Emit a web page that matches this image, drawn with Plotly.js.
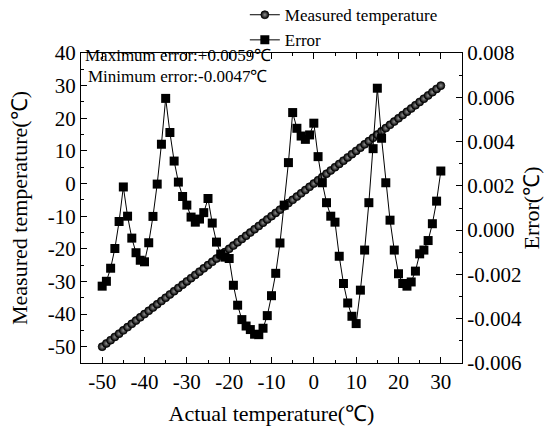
<!DOCTYPE html>
<html>
<head>
<meta charset="utf-8">
<script src="https://cdn.plot.ly/plotly-3.0.1.min.js"></script>
<style>html,body{margin:0;padding:0;background:#fff;}#chart{width:544px;height:429px;}</style>
</head>
<body>
<div id="chart"></div>
<script>
const actualTemp = [-50,-49,-48,-47,-46,-45,-44,-43,-42,-41,-40,-39,-38,-37,-36,-35,-34,-33,-32,-31,-30,-29,-28,-27,-26,-25,-24,-23,-22,-21,-20,-19,-18,-17,-16,-15,-14,-13,-12,-11,-10,-9,-8,-7,-6,-5,-4,-3,-2,-1,0,1,2,3,4,5,6,7,8,9,10,11,12,13,14,15,16,17,18,19,20,21,22,23,24,25,26,27,28,29,30];
const measuredTemp = [-50,-49,-48,-47,-46,-45,-44,-43,-42,-41,-40,-39,-38,-37,-36,-35,-34,-33,-32,-31,-30,-29,-28,-27,-26,-25,-24,-23,-22,-21,-20,-19,-18,-17,-16,-15,-14,-13,-12,-11,-10,-9,-8,-7,-6,-5,-4,-3,-2,-1,0,1,2,3,4,5,6,7,8,9,10,11,12,13,14,15,16,17,18,19,20,21,22,23,24,25,26,27,28,29,30];
const errorVals = [-0.00253,-0.00231,-0.00172,-0.00083,0.00039,0.00195,0.00063,-0.00036,-0.00102,-0.00136,
  -0.00143,-0.00057,0.00062,0.00208,0.00388,0.00595,0.00441,0.00312,0.00217,0.00152,
  0.00113,0.00059,0.00036,0.00050,0.00079,0.00143,0.00032,-0.00054,-0.00108,-0.00122,
  -0.00128,-0.00249,-0.00339,-0.00404,-0.00433,-0.00449,-0.00470,-0.00472,-0.00443,-0.00386,
  -0.00296,-0.00195,-0.00058,0.00113,0.00305,0.00531,0.00460,0.00425,0.00410,0.00430,
  0.00483,0.00332,0.00214,0.00124,0.00063,0.00036,-0.00118,-0.00241,-0.00329,-0.00389,
  -0.00422,-0.00271,-0.00090,0.00124,0.00368,0.00641,0.00415,0.00214,0.00045,-0.00090,
  -0.00197,-0.00241,-0.00253,-0.00234,-0.00185,-0.00107,-0.00090,-0.00047,0.00029,0.00131,
  0.00267];

const xTickVals = [-50,-40,-30,-20,-10,0,10,20,30];
const xTickText = ["-50","-40","-30","-20","-10","0","10","20","30"];
const yTickVals = [-50,-40,-30,-20,-10,0,10,20,30,40];
const yTickText = ["-50","-40","-30","-20","-10","0","10","20","30","40"];
const y2TickVals = [-0.006,-0.004,-0.002,0,0.002,0.004,0.006,0.008];
const y2TickText = ["-0.006","-0.004","-0.002","0.000","0.002","0.004","0.006","0.008"];

const FONT = "Liberation Serif";

const traces = [
  {
    x: actualTemp, y: measuredTemp, name: "Measured temperature",
    type: "scatter", mode: "lines+markers", yaxis: "y",
    line: {color: "#000", width: 1},
    marker: {symbol: "circle", size: 8, color: "#000",
             gradient: {type: "radial", color: "#909090"},
             line: {color: "#000", width: 0.7}}
  },
  {
    x: actualTemp, y: errorVals, name: "Error",
    type: "scatter", mode: "lines+markers", yaxis: "y2",
    line: {color: "#000", width: 1},
    marker: {symbol: "square", size: 9, color: "#000", line: {width: 0}}
  }
];

const axisCommon = {
  showline: true, linecolor: "#000", linewidth: 1,
  ticks: "inside", ticklen: 6, tickwidth: 1, tickcolor: "#000",
  showgrid: false, zeroline: false,
  tickfont: {family: FONT, size: 21, color: "#000"}
};

const layout = {
  width: 544, height: 429,
  margin: {l: 81, r: 82, t: 53, b: 66, autoexpand: false},
  paper_bgcolor: "#fff", plot_bgcolor: "#fff",
  font: {family: FONT, color: "#000"},
  showlegend: true,
  legend: {x: 0.43, y: 1.18, xanchor: "left", yanchor: "top",
           font: {family: FONT, size: 17, color: "#000"},
           bgcolor: "rgba(0,0,0,0)", borderwidth: 0, tracegroupgap: 0},
  xaxis: Object.assign({}, axisCommon, {
    range: [-55, 35], mirror: "ticks",
    tickmode: "array", tickvals: xTickVals, ticktext: xTickText,
    minor: {tickmode: "linear", tick0: -55, dtick: 5, ticks: "inside", ticklen: 3, tickcolor: "#000", showgrid: false},
    title: {text: "Actual temperature(℃)", font: {family: FONT, size: 22, color: "#000"}, standoff: 12}
  }),
  yaxis: Object.assign({}, axisCommon, {
    range: [-55, 40],
    tickmode: "array", tickvals: yTickVals, ticktext: yTickText,
    minor: {tickmode: "linear", tick0: -55, dtick: 5, ticks: "inside", ticklen: 3, tickcolor: "#000", showgrid: false},
    title: {text: "Measured temperature(℃)", font: {family: FONT, size: 22, color: "#000"}, standoff: 14}
  }),
  yaxis2: Object.assign({}, axisCommon, {
    range: [-0.006, 0.008], overlaying: "y", side: "right",
    tickmode: "array", tickvals: y2TickVals, ticktext: y2TickText,
    minor: {tickmode: "linear", tick0: -0.006, dtick: 0.001, ticks: "inside", ticklen: 3, tickcolor: "#000", showgrid: false},
    title: {text: "Error(℃)", font: {family: FONT, size: 22, color: "#000"}, standoff: 2}
  }),
  annotations: [
    {text: "Maximum error:+0.0059℃", xref: "paper", yref: "paper", x: 0.004, y: 0.991,
     xanchor: "left", yanchor: "middle", showarrow: false,
     font: {family: FONT, size: 17, color: "#000"}},
    {text: "Minimum error:-0.0047℃", xref: "paper", yref: "paper", x: 0.013, y: 0.925,
     xanchor: "left", yanchor: "middle", showarrow: false,
     font: {family: FONT, size: 17, color: "#000"}}
  ]
};

Plotly.newPlot("chart", traces, layout, {displayModeBar: false, staticPlot: true});
</script>
</body>
</html>
